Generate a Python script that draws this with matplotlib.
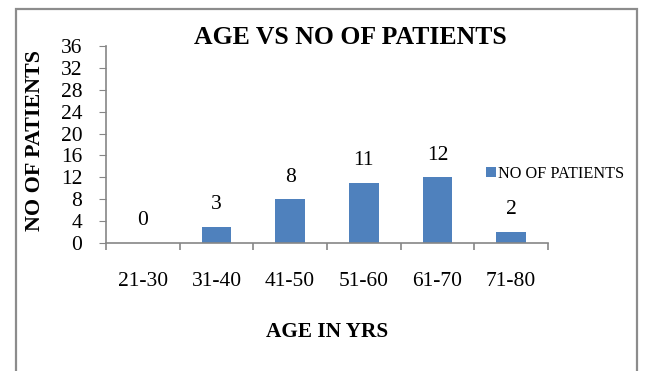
import matplotlib.pyplot as plt
from matplotlib.patches import Rectangle

# data
age_groups = ['21-30', '31-40', '41-50', '51-60', '61-70', '71-80']
patients = [0, 3, 8, 11, 12, 2]
y_ticks = list(range(0, 37, 4))

plt.rcParams['font.family'] = ['Liberation Serif', 'DejaVu Serif']

W, H = 646, 371
fig = plt.figure(figsize=(W / 100, H / 100), dpi=100)

# grey frame round the chart (bottom edge is cut off in the original)
fig.patches.append(Rectangle((16 / W, -0.05), (637 - 16) / W, 1.05 - 9 / H,
                             transform=fig.transFigure, fill=False,
                             edgecolor='#8c8c8c', linewidth=1.6))

ax = fig.add_axes([106 / W, 1 - 243 / H, (548 - 106) / W, (243 - 46) / H])

x = list(range(len(age_groups)))
bars = ax.bar(x, patients, width=0.4, color='#4F81BD', label='NO OF PATIENTS')

for xi, v in zip(x, patients):
    ax.annotate(str(v), (xi, v), xytext=(0, 16), textcoords='offset points',
                ha='center', va='center', fontsize=15.5)

ax.set_xlim(-0.5, len(age_groups) - 0.5)
ax.set_ylim(0, 36)
ax.set_yticks(y_ticks)
ax.set_xticks(x)
ax.set_xticklabels(age_groups)
ax.set_xticks([i - 0.5 for i in range(len(age_groups) + 1)], minor=True)

for s in ['top', 'right']:
    ax.spines[s].set_visible(False)
for s in ['left', 'bottom']:
    ax.spines[s].set_color('#868686')
    ax.spines[s].set_linewidth(1.2)

ax.tick_params(axis='y', direction='out', length=5, color='#868686',
               labelsize=15.5, pad=12)
ax.tick_params(axis='x', which='major', length=0, labelsize=15.5, pad=21)
ax.tick_params(axis='x', which='minor', direction='out', length=5,
               color='#868686', width=1.2)

ax.text((350 - 106) / 442, (243 - 37) / 197, 'AGE VS NO OF PATIENTS',
        transform=ax.transAxes, ha='center', va='center',
        fontsize=18.5, fontweight='bold')

ax.set_xlabel('AGE IN YRS', fontsize=15.3, fontweight='bold')
ax.xaxis.set_label_coords(0.5, (243 - 322) / 197)
ax.set_ylabel('NO OF PATIENTS', fontsize=15.8, fontweight='bold')
ax.yaxis.set_label_coords((45 - 106) / 442, 0.52)

fig.legend(loc='center left', bbox_to_anchor=(486 / W, 1 - 174 / H),
           frameon=False, fontsize=11.7, handlelength=0.6, handleheight=0.6,
           handletextpad=0.15, borderpad=0, borderaxespad=0)

fig.savefig('out.png', dpi=100)
